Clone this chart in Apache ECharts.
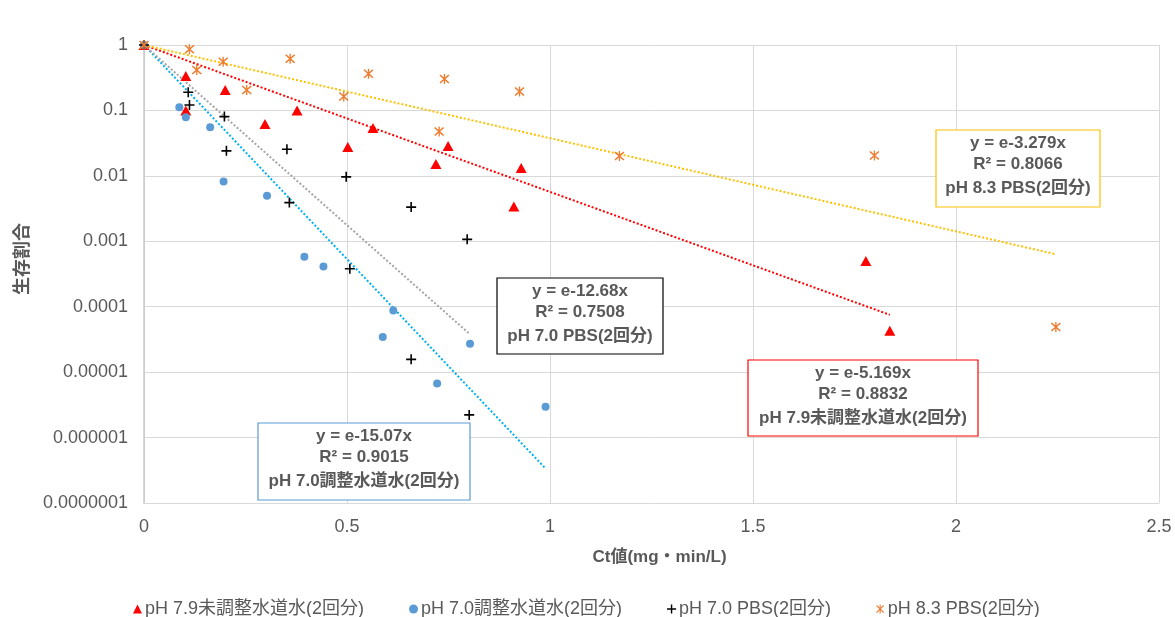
<!DOCTYPE html>
<html>
<head>
<meta charset="utf-8">
<script src="https://cdn.jsdelivr.net/npm/echarts@6/dist/echarts.min.js"></script>
<style>html,body{margin:0;padding:0;background:#fff}#c{width:1175px;height:617px}</style>
</head>
<body>
<div id="c"></div>
<script>
// ---- data ----
const seriesNames = ['pH 7.9未調整水道水(2回分)', 'pH 7.0調整水道水(2回分)', 'pH 7.0 PBS(2回分)', 'pH 8.3 PBS(2回分)'];

const ph79X = [0, 0.103, 0.103, 0.2, 0.298, 0.377, 0.502, 0.564, 0.719, 0.749, 0.929, 0.911, 1.778, 1.837];
const ph79Y = [1, 0.336, 0.10, 0.206, 0.062, 0.10, 0.0277, 0.054, 0.0152, 0.0287, 0.0132, 0.0034, 0.0005, 0.000043];

const ph70X = [0, 0.087, 0.103, 0.163, 0.196, 0.303, 0.395, 0.442, 0.588, 0.614, 0.722, 0.803, 0.989];
const ph70Y = [1, 0.112, 0.0787, 0.0554, 0.0082, 0.00495, 0.00058, 0.00041, 0.0000344, 0.0000879, 0.0000067, 0.0000272, 0.00000297];

const pbs70X = [0, 0.109, 0.112, 0.198, 0.203, 0.352, 0.358, 0.498, 0.507, 0.658, 0.658, 0.796, 0.801];
const pbs70Y = [1, 0.19, 0.121, 0.0805, 0.0241, 0.0255, 0.0039, 0.00966, 0.00038, 0.00333, 0.0000157, 0.00107, 0.00000222];

const pbs83X = [0, 0.112, 0.130, 0.195, 0.253, 0.360, 0.492, 0.553, 0.727, 0.740, 0.925, 1.171, 1.799, 2.246];
const pbs83Y = [1, 0.86, 0.415, 0.556, 0.206, 0.618, 0.163, 0.365, 0.0475, 0.303, 0.194, 0.0202, 0.0204, 0.000049];

// exponential trendlines y = e^(-k x) as labelled
const trendK = [5.169, 15.07, 12.68, 3.279];
const trendR2 = ['0.8832', '0.9015', '0.7508', '0.8066'];
const trendKLabel = ['5.169', '15.07', '12.68', '3.279'];

const xTickLabels = ['0', '0.5', '1', '1.5', '2', '2.5'];
const yTickLabels = ['0.0000001', '0.000001', '0.00001', '0.0001', '0.001', '0.01', '0.1', '1'];

// ---- styling ----
const FONT = '"Liberation Sans", "Noto Sans CJK JP", sans-serif';
const TXT = '#595959';
const markerColors = ['#FF0000', '#5B9BD5', '#000000', '#ED7D31'];
const trendColors = ['#FF0000', '#00B0F0', '#A5A5A5', '#FFC000'];
const boxColors = ['#FF0000', '#5B9BD5', '#000000', '#FFC000'];
const crossPath = 'path://M4.2 0H5.8V4.2H10V5.8H5.8V10H4.2V5.8H0V4.2H4.2Z';
const starPath = 'path://M0.5 1.5L1.5 0.5L9.5 8.5L8.5 9.5Z M8.5 0.5L9.5 1.5L1.5 9.5L0.5 8.5Z M4.4 0L5.6 0L5.6 10L4.4 10Z';
const symbols = ['triangle', 'circle', crossPath, starPath];
const symbolSizes = [[11, 10], 8, 10, 10];

const allX = [ph79X, ph70X, pbs70X, pbs83X];
const allY = [ph79Y, ph70Y, pbs70Y, pbs83Y];

const series = [];
// trendlines
for (let i = 0; i < 4; i++) {
  const xmax = Math.max(...allX[i]);
  series.push({
    type: 'line', name: 'trend' + i, silent: true, symbol: 'none', z: 1,
    data: [[0, 1], [xmax, Math.exp(-trendK[i] * xmax)]],
    lineStyle: { color: trendColors[i], width: 2, type: [2, 2] }
  });
}
// markers
for (let i = 0; i < 4; i++) {
  series.push({
    type: 'scatter', name: seriesNames[i], z: 3,
    symbol: symbols[i], symbolSize: symbolSizes[i],
    itemStyle: { color: markerColors[i], opacity: 1 },
    data: allX[i].map((x, j) => [x, allY[i][j]])
  });
}

// annotation boxes: [left, top, width, height, trend index, label]
const boxes = [
  [936, 130, 164, 77, 3, 'pH 8.3 PBS(2回分)'],
  [497, 278, 166, 76, 2, 'pH 7.0 PBS(2回分)'],
  [748, 360, 230, 76, 0, 'pH 7.9未調整水道水(2回分)'],
  [258, 423, 212, 77, 1, 'pH 7.0調整水道水(2回分)']
];
const graphics = [];
boxes.forEach(b => {
  const [l, t, w, h, idx, name] = b;
  const cx = l + w / 2;
  const lines = ['y = e-' + trendKLabel[idx] + 'x', 'R² = ' + trendR2[idx], name];
  const ys = [t + 13, t + 34, t + 58];
  graphics.push({
    type: 'rect', z: 100, shape: { x: l, y: t, width: w, height: h },
    style: { fill: '#ffffff', stroke: boxColors[idx], lineWidth: 1.2 }
  });
  lines.forEach((s, k) => graphics.push({
    type: 'text', z: 101,
    style: { text: s, x: cx, y: ys[k], textAlign: 'center', textVerticalAlign: 'middle',
      fill: TXT, fontSize: 17, fontWeight: 'bold', fontFamily: FONT }
  }));
});

const chart = echarts.init(document.getElementById('c'), null, { renderer: 'canvas' });
chart.setOption({
  animation: false,
  backgroundColor: '#fff',
  textStyle: { fontFamily: FONT },
  grid: { left: 144, right: 16, top: 45, bottom: 114, containLabel: false },
  xAxis: {
    type: 'value', min: 0, max: 2.5, interval: 0.5,
    name: 'Ct値(mg・min/L)', nameLocation: 'middle', nameGap: 46,
    nameTextStyle: { color: TXT, fontSize: 17, fontWeight: 'bold', fontFamily: FONT, padding: [0, 0, 0, 16] },
    axisLine: { show: true, lineStyle: { color: '#D9D9D9', width: 1 } },
    axisTick: { show: false },
    axisLabel: { color: TXT, fontSize: 18, margin: 15, fontFamily: FONT,
      formatter: v => xTickLabels[Math.round(v / 0.5)] },
    splitLine: { show: true, lineStyle: { color: '#D9D9D9', width: 1 } }
  },
  yAxis: {
    type: 'log', logBase: 10, min: 1e-7, max: 1, splitNumber: 7,
    name: '生存割合', nameLocation: 'middle', nameGap: 112, nameRotate: 90,
    nameTextStyle: { color: TXT, fontSize: 18, fontWeight: 'bold', fontFamily: FONT, padding: [0, 0, 0, 30] },
    axisLine: { show: true, lineStyle: { color: '#C8C8C8', width: 1.5 } },
    axisTick: { show: false },
    axisLabel: { color: TXT, fontSize: 18, margin: 16, fontFamily: FONT,
      formatter: v => yTickLabels[Math.round(Math.log10(v)) + 7] },
    splitLine: { show: true, lineStyle: { color: '#D9D9D9', width: 1 } }
  },
  legend: {
    data: seriesNames, left: 128, top: 595, itemGap: 45,
    itemWidth: 9, itemHeight: 9,
    textStyle: { color: TXT, fontSize: 18, fontFamily: FONT, padding: [0, 0, 0, -2] }
  },
  series: series,
  graphic: { elements: graphics }
});
</script>
</body>
</html>
